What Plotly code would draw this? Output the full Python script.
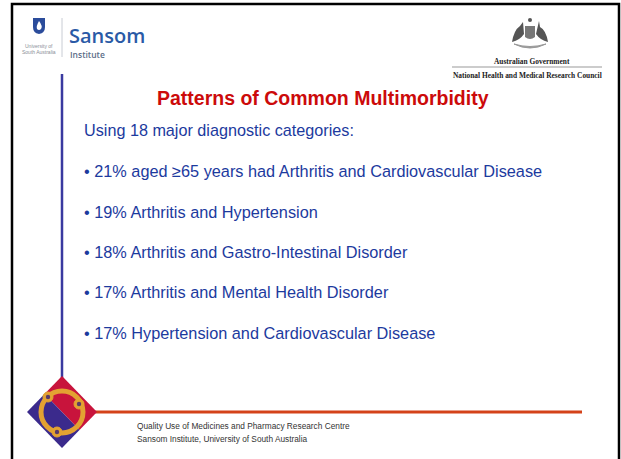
import plotly.graph_objects as go

W, H = 621, 459

title = "Patterns of Common Multimorbidity"
subtitle = "Using 18 major diagnostic categories:"
bullets = [
    "• 21% aged ≥65 years had Arthritis and Cardiovascular Disease",
    "• 19% Arthritis and Hypertension",
    "• 18% Arthritis and Gastro-Intestinal Disorder",
    "• 17% Arthritis and Mental Health Disorder",
    "• 17% Hypertension and Cardiovascular Disease",
]
bullet_y = [171, 212, 252, 292, 333]
footer = [
    "Quality Use of Medicines and Pharmacy Research Centre",
    "Sansom Institute, University of South Australia",
]
logo_left = ["Sansom", "Institute", "University of", "South Australia"]
logo_right = ["Australian Government", "National Health and Medical Research Council"]

BLUE = "#1c3a9e"
RED = "#cc0a0a"

fig = go.Figure()
fig.add_trace(go.Scatter(x=[0, W], y=[0, H], mode="markers",
                         marker=dict(opacity=0), hoverinfo="skip", showlegend=False))

shapes = []
ann = []

def text(x, y, s, size, color, family="Liberation Sans, Arial", xanchor="left", bold=False, weight=None):
    f = dict(size=size, color=color, family=family)
    if weight:
        f["weight"] = weight
    ann.append(dict(x=x, y=y, xref="x", yref="y", text=("<b>%s</b>" % s) if bold else s,
                    showarrow=False, xanchor=xanchor, yanchor="middle", font=f))

# frame
shapes.append(dict(type="rect", x0=12, y0=4, x1=619, y1=470,
                   line=dict(color="black", width=2.5), layer="above"))

# vertical blue line
shapes.append(dict(type="line", x0=62, y0=74, x1=62, y1=378,
                   line=dict(color="#3a3aa0", width=2.5)))
# horizontal orange line
shapes.append(dict(type="line", x0=95, y0=412, x1=582, y1=412,
                   line=dict(color="#d4421a", width=3)))

# diamond logo
cx, cy, hw, hh = 62, 412, 35, 36
L = (cx - hw, cy); T = (cx, cy - hh); R = (cx + hw, cy); B = (cx, cy + hh)
m1 = ((L[0] + T[0]) / 2, (L[1] + T[1]) / 2)
m2 = ((R[0] + B[0]) / 2, (R[1] + B[1]) / 2)
def path(pts):
    return "M " + " L ".join("%.1f,%.1f" % p for p in pts) + " Z"
shapes.append(dict(type="path", path=path([m1, T, R, m2]), fillcolor="#c8143c", line=dict(width=0)))
shapes.append(dict(type="path", path=path([m1, m2, B, L]), fillcolor="#3b2a8c", line=dict(width=0)))
r = 21
shapes.append(dict(type="circle", x0=cx - r, y0=cy - r, x1=cx + r, y1=cy + r,
                   line=dict(color="#e3a232", width=5)))
for (dx, dy) in [(-14, -15), (17, -8), (-5, 20)]:
    shapes.append(dict(type="circle", x0=cx + dx - 5, y0=cy + dy - 5, x1=cx + dx + 5, y1=cy + dy + 5,
                       fillcolor="#e3a232", line=dict(color="#e3a232", width=1)))
    shapes.append(dict(type="circle", x0=cx + dx - 2.2, y0=cy + dy - 2.2, x1=cx + dx + 2.2, y1=cy + dy + 2.2,
                       fillcolor="#5a3a6a", line=dict(width=0)))

# UniSA shield
shapes.append(dict(type="path", path="M 33,18 L 45,18 L 45,27 Q 45,33 39,34 Q 33,33 33,27 Z",
                   fillcolor="#2b4c9b", line=dict(width=0)))
shapes.append(dict(type="path", path="M 39,21 Q 43,26 41,29 Q 39,31 37,29 Q 36,26 39,21 Z",
                   fillcolor="white", line=dict(width=0)))
shapes.append(dict(type="line", x0=62, y0=18, x1=62, y1=57, line=dict(color="#c8ccd4", width=1)))
text(67, 35, logo_left[0], 20, "#2a5aa6", family="Open Sans, Noto Sans", weight=600)
text(68, 54, logo_left[1], 8.5, "#5c6e88", family="Open Sans, Noto Sans", weight=600)
text(39, 46, logo_left[2], 5, "#8a8f98", xanchor="center")
text(39, 52, logo_left[3], 5, "#8a8f98", xanchor="center")

# Coat of arms (approximation)
shapes.append(dict(type="path", path="M 525,26 L 535,26 L 535,37 Q 530,41 525,37 Z",
                   fillcolor="#777", line=dict(width=0)))
shapes.append(dict(type="path", path="M 512,42 Q 514,30 520,26 L 523,22 L 524,34 Q 520,40 512,42 Z",
                   fillcolor="#555", line=dict(width=0)))
shapes.append(dict(type="path", path="M 548,42 Q 546,30 540,27 L 539,21 L 536,34 Q 540,40 548,42 Z",
                   fillcolor="#555", line=dict(width=0)))
shapes.append(dict(type="circle", x0=528, y0=18, x1=532, y1=22, fillcolor="#555", line=dict(width=0)))
shapes.append(dict(type="path", path="M 514,44 Q 530,52 546,44 Q 530,49 514,44 Z",
                   fillcolor="#999", line=dict(color="#999", width=1)))
text(532, 61, logo_right[0], 7.4, "#222", family="Liberation Serif, serif", xanchor="center", bold=True)
shapes.append(dict(type="line", x0=452, y0=67, x1=602, y1=67, line=dict(color="#999", width=1)))
text(527, 75, logo_right[1], 7.4, "#222", family="Liberation Serif, serif", xanchor="center", bold=True)

# Title & body
text(323, 98, title, 19.5, RED, xanchor="center", bold=True)
text(82, 130, subtitle, 16.2, BLUE)
for s, y in zip(bullets, bullet_y):
    text(82, y, s, 16.3, BLUE)

# footer
text(135, 426, footer[0], 8.3, "#333")
text(135, 439, footer[1], 8.3, "#333")

fig.update_layout(
    width=W, height=H, margin=dict(l=0, r=0, t=0, b=0),
    paper_bgcolor="white", plot_bgcolor="white",
    xaxis=dict(range=[0, W], visible=False, fixedrange=True),
    yaxis=dict(range=[H, 0], visible=False, fixedrange=True),
    shapes=shapes, annotations=ann, showlegend=False,
)
fig.write_html("out.html", config={"displayModeBar": False},
               post_script="document.body.style.margin='0px';document.body.style.overflow='hidden';")
